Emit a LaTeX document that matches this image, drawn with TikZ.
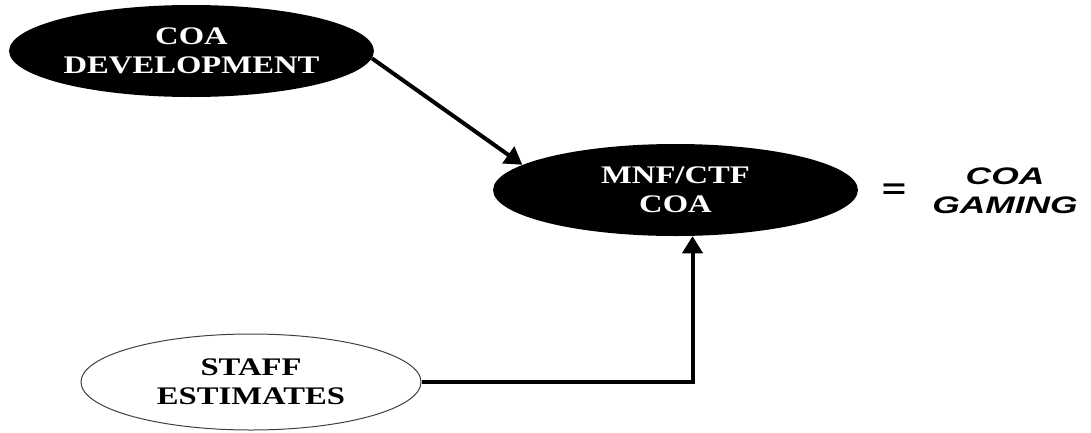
\documentclass[tikz,border=0pt]{standalone}
\usepackage{fontspec}
\setmainfont{Liberation Serif}
\newfontfamily\gamefont{Liberation Sans}
\usetikzlibrary{shapes.geometric,arrows.meta}
\tikzset{
  coabox/.style={ellipse, fill=black, text=white, inner sep=0pt, align=center,
    minimum width=70.7mm, minimum height=23mm, xscale=1.29, transform shape,
    font=\bfseries\fontsize{18}{20.6}\selectfont},
  staffbox/.style={ellipse, draw=black!75, line width=0.25mm, inner sep=0pt, align=center,
    minimum width=65.9mm, minimum height=24mm, xscale=1.29, transform shape,
    font=\bfseries\fontsize{18}{20.6}\selectfont},
  gametext/.style={align=center, inner sep=0pt, xscale=1.48, transform shape,
    font=\gamefont\bfseries\itshape\fontsize{17}{20.6}\selectfont},
  arr/.style={-{Triangle[length=4.3mm,width=5mm]}, line width=1mm}
}
\begin{document}
\begin{tikzpicture}[x=0.25mm,y=0.25mm]
\useasboundingbox (0,0) rectangle (1091,432);

\node (dev) at (191.5,381) [coabox] {COA\\DEVELOPMENT};
\node (mnf) at (675.5,242) [coabox] {MNF/CTF\\COA};
\node (est) at (251,50) [staffbox] {STAFF\\ESTIMATES};
\node (eq) at (894,241) [gametext, font=\gamefont\bfseries\fontsize{20}{22}\selectfont] {=};
\node (game) at (1005,241.5) [gametext] {COA\\GAMING};

\draw [arr] (dev.-3.6) -- (mnf.168.6);
\draw [arr] (est.east) -| (mnf.-74.6);
\end{tikzpicture}
\end{document}
